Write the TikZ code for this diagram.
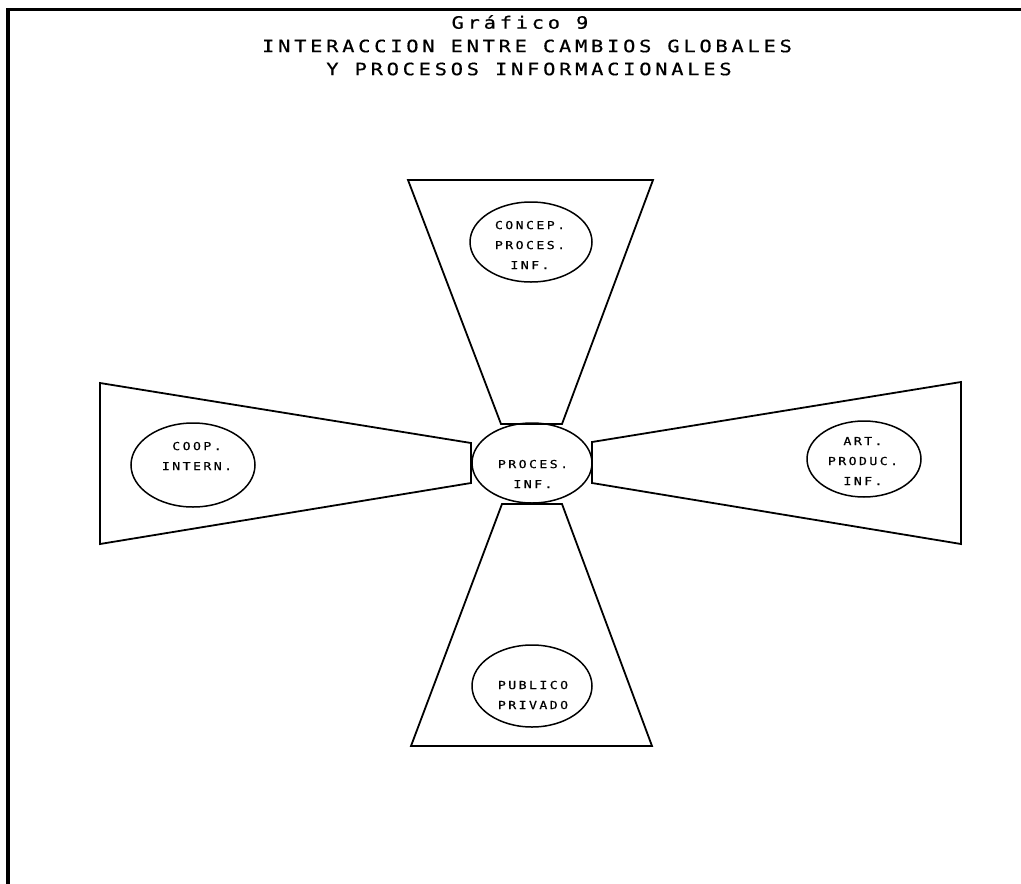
\documentclass[tikz,border=0pt]{standalone}
\usepackage{fontspec}
\setmainfont{DejaVu Sans Mono}
\newfontfamily\plotfont[LetterSpace=22, FakeStretch=1.2, FakeBold=0.6]{DejaVu Sans Mono}
\usetikzlibrary{shapes.geometric}

\begin{document}
\begin{tikzpicture}[x=1pt,y=-1pt,
    heading/.style={font=\plotfont\fontsize{17}{20}\selectfont, inner sep=0pt},
    blob/.style={draw, ellipse, line width=1.5pt, inner sep=0pt},
    tag/.style={align=center, inner sep=0pt, font=\plotfont\fontsize{11}{20}\selectfont},
    wing/.style={draw, line width=1.8pt, line join=miter}]
    \useasboundingbox (0,0) rectangle (1021,884);
    % frame
    \draw[line width=3.5pt] (8,884) -- (8,9.5) -- (1021,9.5);
    % title
    \node[heading] (tit1) at (520,22) {Gráfico 9};
    \node[heading] (tit2) at (527,46) {INTERACCION ENTRE CAMBIOS GLOBALES};
    \node[heading] (tit3) at (529,69) {Y PROCESOS INFORMACIONALES};
    % wings
    \draw[wing] (408,180) -- (653,180) -- (562,424) -- (501,424) -- cycle;
    \draw[wing] (502,504) -- (562,504) -- (652,746) -- (411,746) -- cycle;
    \draw[wing] (100,383) -- (471,443) -- (471,483) -- (100,544) -- cycle;
    \draw[wing] (961,382) -- (592,442) -- (592,483) -- (961,544) -- cycle;
    % ellipses
    \node[blob, minimum width=122, minimum height=80] (concep) at (531,242) {};
    \node[blob, minimum width=120, minimum height=80] (proces) at (532,463) {};
    \node[blob, minimum width=124, minimum height=84] (coop) at (193,465) {};
    \node[blob, minimum width=114, minimum height=76] (art) at (864,459) {};
    \node[blob, minimum width=120, minimum height=82] (publico) at (532,686) {};
    % labels
    \node[tag] (concep-t) at (530,245) {CONCEP.\\PROCES.\\INF.};
    \node[tag] (proces-t) at (533,474) {PROCES.\\INF.};
    \node[tag] (coop-t) at (197,456) {COOP.\\INTERN.};
    \node[tag] (art-t) at (863,461) {ART.\\PRODUC.\\INF.};
    \node[tag] (publico-t) at (533,695) {PUBLICO\\PRIVADO};
\end{tikzpicture}
\end{document}
